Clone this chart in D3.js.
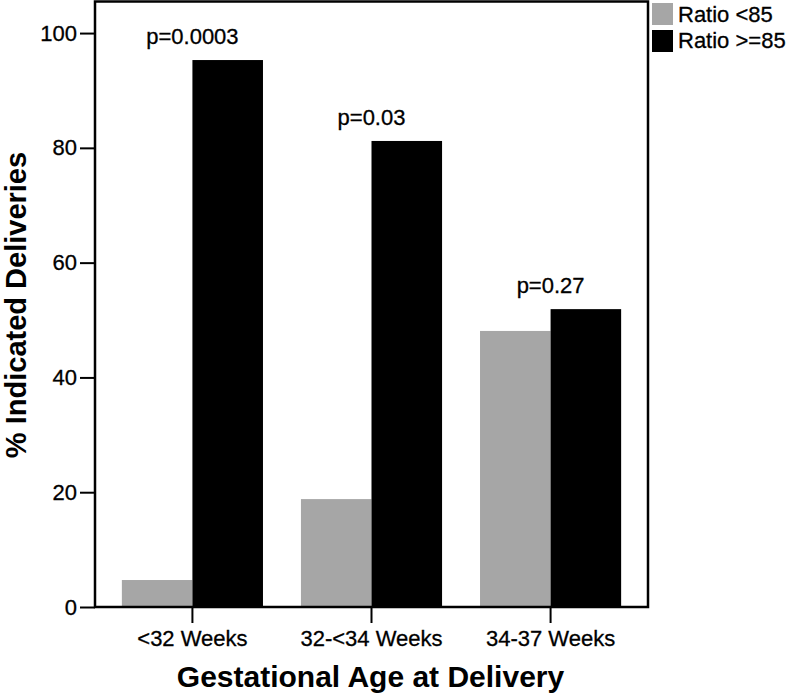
<!DOCTYPE html>
<html><head><meta charset="utf-8">
<script src="https://cdn.jsdelivr.net/npm/d3@7"></script>
<style>body{margin:0;background:#fff}svg{display:block}text{font-family:"Liberation Sans",Arial,sans-serif}</style>
</head><body>
<svg id="c" width="790" height="694"></svg>
<script>
const categories = ["<32 Weeks", "32-<34 Weeks", "34-37 Weeks"];
const seriesNames = ["Ratio <85", "Ratio >=85"];
const ratioLow = [4.7, 18.8, 48.1];
const ratioHigh = [95.3, 81.2, 51.9];
const pLabels = ["p=0.0003", "p=0.03", "p=0.27"];
const yTicks = [0, 20, 40, 60, 80, 100];
const colors = ["#a6a6a6", "#000000"];

const svg = d3.select("#c");
const L = 95, R = 648, T = 1.5, B = 607;
const x = d3.scaleBand().domain(categories).range([L, R]).paddingInner(0.212).paddingOuter(0.15);
const xs = d3.scaleBand().domain(seriesNames).range([0, x.bandwidth()]);
const y = d3.scaleLinear().domain([0, 105.5]).range([B, T]);

const data = categories.map((c, i) => ({c, vals: [ratioLow[i], ratioHigh[i]], p: pLabels[i]}));

const g = svg.append("g");
data.forEach(d => {
  d.vals.forEach((v, j) => {
    g.append("rect")
      .attr("x", x(d.c) + xs(seriesNames[j]))
      .attr("width", xs.bandwidth())
      .attr("y", y(v))
      .attr("height", y(0) - y(v))
      .attr("fill", colors[j]);
  });
  g.append("text")
    .attr("x", x(d.c) + x.bandwidth() / 2)
    .attr("y", y(d3.max(d.vals)) - 16)
    .attr("text-anchor", "middle")
    .attr("font-size", 22)
    .attr("stroke", "#000").attr("stroke-width", 0.3)
    .text(d.p);
});

// frame
svg.append("rect").attr("x", L).attr("y", T).attr("width", R - L).attr("height", B - T)
  .attr("fill", "none").attr("stroke", "#000").attr("stroke-width", 2.5);

// y axis
const yAxis = d3.axisLeft(y).tickValues(yTicks).tickSize(15).tickPadding(3).tickFormat(d3.format("d"));
const ya = svg.append("g").attr("transform", `translate(${L},0)`).call(yAxis);
ya.select(".domain").remove();
ya.selectAll(".tick line").attr("stroke", "#000").attr("stroke-width", 2);
ya.selectAll(".tick text").attr("font-size", 22).attr("fill", "#000")
  .attr("stroke", "#000").attr("stroke-width", 0.3)
  .attr("font-family", '"Liberation Sans",Arial,sans-serif');

// x axis
const xAxis = d3.axisBottom(x).tickSize(16).tickPadding(6);
const xa = svg.append("g").attr("transform", `translate(0,${B})`).call(xAxis);
xa.select(".domain").remove();
xa.selectAll(".tick line").attr("stroke", "#000").attr("stroke-width", 2);
xa.selectAll(".tick text").attr("font-size", 22).attr("fill", "#000")
  .attr("stroke", "#000").attr("stroke-width", 0.3)
  .attr("font-family", '"Liberation Sans",Arial,sans-serif').attr("dy", "0.75em");

// axis titles
svg.append("text").attr("x", (L + R) / 2 - 1).attr("y", 687).attr("text-anchor", "middle")
  .attr("font-size", 30).attr("font-weight", "bold").text("Gestational Age at Delivery");
svg.append("text").attr("transform", `translate(26,${305}) rotate(-90)`).attr("text-anchor", "middle")
  .attr("font-size", 29).attr("font-weight", "bold").text("% Indicated Deliveries");

// legend
const lg = svg.append("g");
seriesNames.forEach((s, i) => {
  lg.append("rect").attr("x", 652).attr("y", 3 + i * 27).attr("width", 21).attr("height", 22).attr("fill", colors[i]);
  lg.append("text").attr("x", 678).attr("y", 22 + i * 25.5).attr("font-size", 22)
    .attr("stroke", "#000").attr("stroke-width", 0.3).text(s);
});
</script>
</body></html>
